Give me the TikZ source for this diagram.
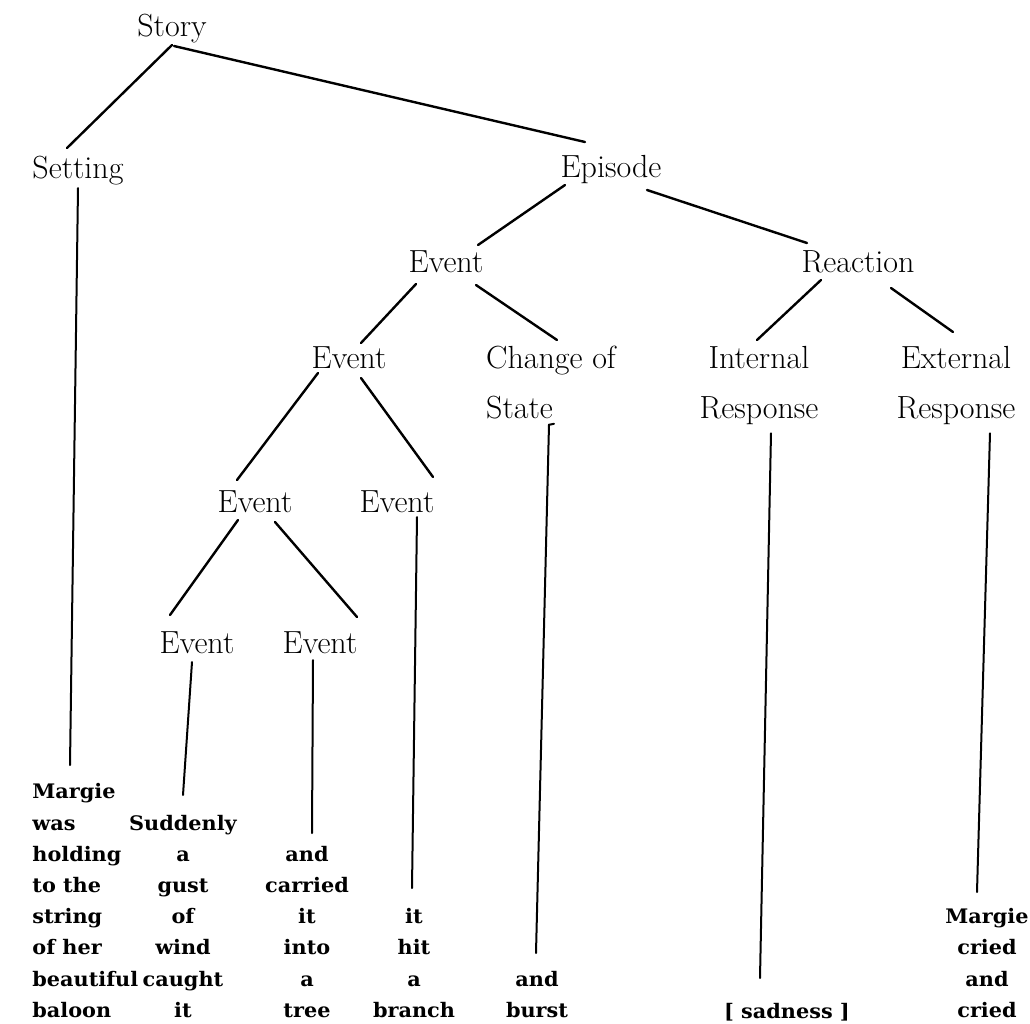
\documentclass[tikz,border=0pt]{standalone}
\usepackage{fontspec}
\newfontfamily\leaffont{DejaVu Serif}[FakeStretch=1.04]
\usetikzlibrary{calc}

\begin{document}
\begin{tikzpicture}[
    x=0.5pt, y=-0.5pt,
    cat/.style={inner sep=0pt, font=\fontsize{16}{25}\selectfont},
    leaf/.style={inner sep=0pt, font=\leaffont\bfseries\fontsize{10}{15.6}\selectfont},
    branch/.style={line width=1.2pt, line cap=round},
    stem/.style={line width=1pt, line cap=round},
]
\useasboundingbox (0,0) rectangle (1030,1024);

% Story grammar categories
\node[cat, anchor=base] (story) at (172,36) {Story};
\node[cat, anchor=base] (setting) at (78,178) {Setting};
\node[cat, anchor=base] (episode) at (611,177) {Episode};
\node[cat, anchor=base] (event) at (446,272) {Event};
\node[cat, anchor=base] (reaction) at (858,272) {Reaction};
\node[cat, anchor=base] (eventa) at (349,368) {Event};
\node[cat, anchor=north, align=left] (change) at (551,346) {Change of\\State};
\node[cat, anchor=north, align=center] (internal) at (759,346) {Internal\\Response};
\node[cat, anchor=north, align=center] (external) at (956,346) {External\\Response};
\node[cat, anchor=base] (eventb) at (255,512) {Event};
\node[cat, anchor=base] (eventc) at (397,512) {Event};
\node[cat, anchor=base] (eventd) at (197,653) {Event};
\node[cat, anchor=base] (evente) at (320,653) {Event};

% Sentences of the story
\node[leaf, anchor=south west, align=left] (holding) at (32,1018) {Margie\\was\\holding\\to the\\string\\of her\\beautiful\\baloon};
\node[leaf, anchor=south, align=center] (gust) at (183,1018) {Suddenly\\a\\gust\\of\\wind\\caught\\it};
\node[leaf, anchor=south, align=center] (tree) at (307,1018) {and\\carried\\it\\into\\a\\tree};
\node[leaf, anchor=south, align=center] (hit) at (414,1018) {it\\hit\\a\\branch};
\node[leaf, anchor=south, align=center] (burst) at (537,1018) {and\\burst};
\node[leaf, anchor=base] (sadness) at (787,1018) {[ sadness ]};
\node[leaf, anchor=south, align=center] (cried) at (987,1018) {Margie\\cried\\and\\cried};

% ends of the stems
\coordinate (settingend) at (70,765);
\coordinate (eventdend) at (183,795);
\coordinate (eventeend) at (312,833);
\coordinate (eventcend) at (412,888);
\coordinate (changeend) at (536,953);
\coordinate (internalend) at (760,978);
\coordinate (externalend) at (977,892);

% Tree branches
\draw[branch] ($(story.base)+(0,9)$) -- ($(setting.base)+(-11,-30)$);
\draw[branch] ($(story.base)+(2,10)$) -- ($(episode.base)+(-26,-35)$);
\draw[branch] ($(episode.base)+(-46,8)$) -- ($(event.base)+(32,-27)$);
\draw[branch] ($(episode.base)+(36,13)$) -- ($(reaction.base)+(-51,-29)$);
\draw[branch] ($(event.base)+(-30,12)$) -- ($(eventa.base)+(12,-25)$);
\draw[branch] ($(event.base)+(30,13)$) -- ($(change.north)+(6,-6)$);
\draw[branch] ($(reaction.base)+(-37,8)$) -- ($(internal.north)+(-2,-6)$);
\draw[branch] ($(reaction.base)+(33,16)$) -- ($(external.north)+(-3,-14)$);
\draw[branch] ($(eventa.base)+(-31,5)$) -- ($(eventb.base)+(-18,-32)$);
\draw[branch] ($(eventa.base)+(12,10)$) -- ($(eventc.base)+(36,-35)$);
\draw[branch] ($(eventb.base)+(-17,8)$) -- ($(eventd.base)+(-27,-38)$);
\draw[branch] ($(eventb.base)+(20,10)$) -- ($(evente.base)+(37,-36)$);

% Stems down to the text
\draw[stem] ($(setting.base)+(0,10)$) -- (settingend);
\draw[stem] ($(eventd.base)+(-5,9)$) -- (eventdend);
\draw[stem] ($(evente.base)+(-7,7)$) -- (eventeend);
\draw[stem] ($(eventc.base)+(20,5)$) -- (eventcend);
\draw[stem] ($(change.south)+(3,4)$) -- ($(change.south)+(-2,5)$) -- (changeend);
\draw[stem] ($(internal.south)+(12,8)$) -- (internalend);
\draw[stem] ($(external.south)+(34,8)$) -- (externalend);

\end{tikzpicture}
\end{document}
